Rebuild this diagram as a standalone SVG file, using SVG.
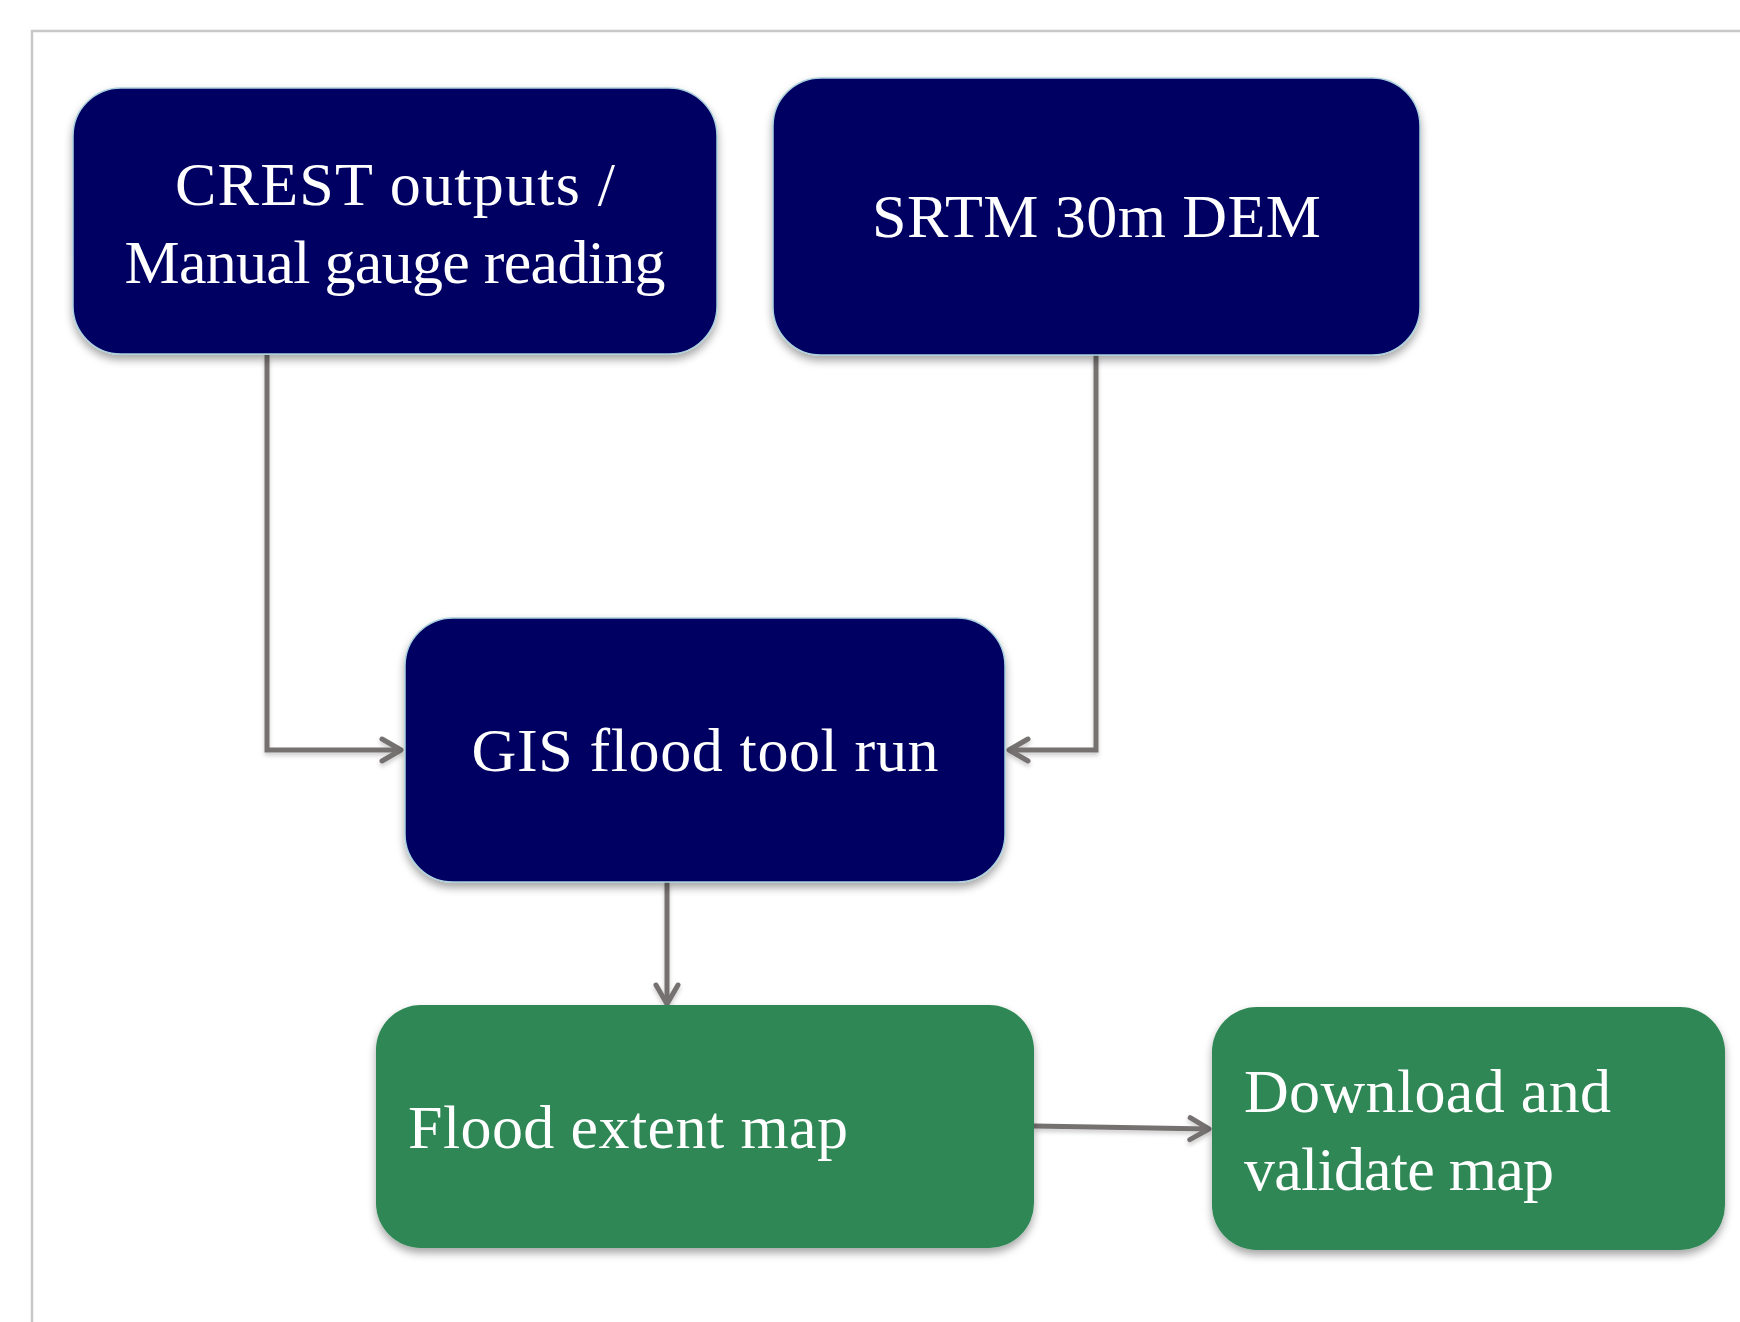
<svg xmlns="http://www.w3.org/2000/svg" width="1740" height="1322" viewBox="0 0 1740 1322">
  <style>
    .navy { fill: #000062; stroke: #a9cfdc; stroke-width: 1.5; }
    .green { fill: #2e8754; }
    .lbl { fill: #ffffff; font-family: "Liberation Serif", "Times New Roman", serif; font-size: 62px; }
    .conn { fill: none; stroke: #767171; stroke-width: 5; }
  </style>
  <defs>
    <filter id="shadow" x="-10%" y="-10%" width="120%" height="130%">
      <feDropShadow dx="0" dy="5" stdDeviation="4" flood-color="#000000" flood-opacity="0.35"/>
    </filter>
    <filter id="lshadow" x="-20%" y="-20%" width="140%" height="140%">
      <feDropShadow dx="0" dy="3" stdDeviation="2" flood-color="#000000" flood-opacity="0.2"/>
    </filter>
    <marker id="arrow" markerUnits="userSpaceOnUse" markerWidth="30" markerHeight="30" viewBox="-24 -15 28 30" refX="0" refY="0" orient="auto">
      <path d="M-19,-11 L0,0 L-19,11" fill="none" stroke="#767171" stroke-width="5" stroke-linecap="round" stroke-linejoin="round"/>
    </marker>
  </defs>
  <rect width="1740" height="1322" fill="#ffffff"/>
  <path d="M32,1322 L32,31 L1740,31" fill="none" stroke="#c8c8c8" stroke-width="2.5"/>

  <g id="connectors" filter="url(#lshadow)">
    <path class="conn" d="M267,355 L267,750 L401,750" marker-end="url(#arrow)"/>
    <path class="conn" d="M1096,355 L1096,750 L1009,750" marker-end="url(#arrow)"/>
    <path class="conn" d="M667,882 L667,1004" marker-end="url(#arrow)"/>
    <path class="conn" d="M1034,1126 L1209,1129" marker-end="url(#arrow)"/>
  </g>

  <g id="node-crest">
    <rect class="navy" x="73" y="88" width="644" height="266" rx="48" ry="48" filter="url(#shadow)"/>
    <text class="lbl" x="395" y="205" text-anchor="middle" textLength="440">CREST outputs /</text>
    <text class="lbl" x="395" y="283" text-anchor="middle" textLength="541">Manual gauge reading</text>
  </g>

  <g id="node-srtm">
    <rect class="navy" x="773" y="78" width="647" height="277" rx="48" ry="48" filter="url(#shadow)"/>
    <text class="lbl" x="1096.5" y="237" text-anchor="middle" textLength="449">SRTM 30m DEM</text>
  </g>

  <g id="node-gis">
    <rect class="navy" x="405" y="618" width="600" height="264" rx="48" ry="48" filter="url(#shadow)"/>
    <text class="lbl" x="705" y="771" text-anchor="middle" textLength="467">GIS flood tool run</text>
  </g>

  <g id="node-flood">
    <rect class="green" x="376" y="1005" width="658" height="243" rx="45" ry="45" filter="url(#shadow)"/>
    <text class="lbl" x="408" y="1148" textLength="440">Flood extent map</text>
  </g>

  <g id="node-download">
    <rect class="green" x="1212" y="1007" width="513" height="243" rx="45" ry="45" filter="url(#shadow)"/>
    <text class="lbl" x="1244" y="1112" textLength="367">Download and</text>
    <text class="lbl" x="1244" y="1190" textLength="310">validate map</text>
  </g>
</svg>
